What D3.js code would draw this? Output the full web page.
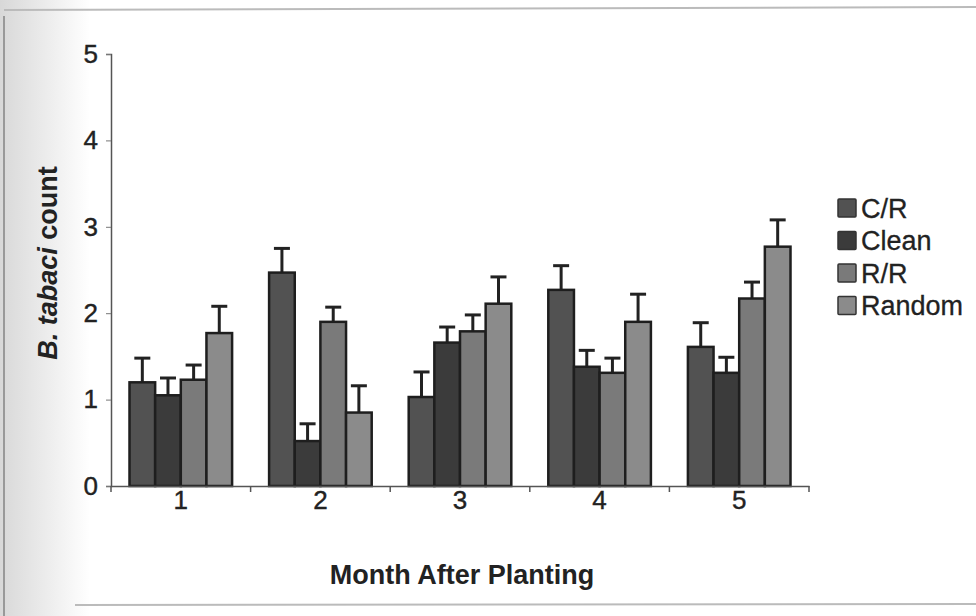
<!DOCTYPE html>
<html>
<head>
<meta charset="utf-8">
<script src="https://cdn.jsdelivr.net/npm/d3@7"></script>
<style>
  body { margin: 0; background: #fff; }
  svg { display: block; font-family: "Liberation Sans", Arial, sans-serif; }
</style>
</head>
<body>
<svg id="chart" width="976" height="616"></svg>
<script>
// data
const months = ["1", "2", "3", "4", "5"];
const series = ["C/R", "Clean", "R/R", "Random"];
const colors = ["#525252", "#3b3b3b", "#7a7a7a", "#8b8b8b"];
const means = [
  [1.2, 2.47, 1.03, 2.27, 1.61],   // C/R
  [1.05, 0.52, 1.66, 1.38, 1.31],  // Clean
  [1.23, 1.9, 1.79, 1.31, 2.17],   // R/R
  [1.77, 0.85, 2.11, 1.9, 2.77]    // Random
];
const errors = [
  [0.28, 0.28, 0.29, 0.28, 0.28],
  [0.2, 0.2, 0.18, 0.19, 0.18],
  [0.17, 0.17, 0.19, 0.17, 0.19],
  [0.31, 0.31, 0.31, 0.32, 0.31]
];
const yTicks = [0, 1, 2, 3, 4, 5];

const margin = { top: 54, left: 111, right: 167, bottom: 130 };
const width = 976 - margin.left - margin.right;
const height = 616 - margin.top - margin.bottom;

const svg = d3.select("#chart");

// scanned-page look: grey left edge and frame lines
const defs = svg.append("defs");
const grad = defs.append("linearGradient").attr("id", "edge");
grad.append("stop").attr("offset", "0%").attr("stop-color", "#d8d8d8");
grad.append("stop").attr("offset", "100%").attr("stop-color", "#ffffff");
svg.append("rect").attr("x", 0).attr("y", 0).attr("width", 976).attr("height", 616).attr("fill", "#fff");
svg.append("rect").attr("x", 0).attr("y", 0).attr("width", 90).attr("height", 616).attr("fill", "url(#edge)");
svg.append("line").attr("x1", 4).attr("x2", 4).attr("y1", 16).attr("y2", 616)
  .style("stroke", "#999").style("stroke-width", 2);
svg.append("line").attr("x1", 4).attr("x2", 976).attr("y1", 10).attr("y2", 7)
  .style("stroke", "#bbb").style("stroke-width", 2);
svg.append("line").attr("x1", 75).attr("x2", 976).attr("y1", 605).attr("y2", 604)
  .style("stroke", "#bbb").style("stroke-width", 2);

const g = svg.append("g").attr("transform", `translate(${margin.left},${margin.top})`);

const x = d3.scaleBand().domain(months).range([0, width]);
const inner = d3.scaleBand().domain(series)
  .range([18.5, x.bandwidth() - 18.5]);
const y = d3.scaleLinear().domain([0, 5]).range([height, 0]);

// bars
const groups = g.selectAll("g.month")
  .data(months)
  .join("g")
  .attr("class", "month")
  .attr("transform", d => `translate(${x(d)},0)`);

groups.each(function (m, mi) {
  const grp = d3.select(this);
  series.forEach((s, si) => {
    const v = means[si][mi];
    const e = errors[si][mi];
    const cx = inner(s) + inner.bandwidth() / 2;
    grp.append("line")
      .attr("x1", cx).attr("x2", cx)
      .attr("y1", y(v)).attr("y2", y(v + e))
      .style("stroke", "#222").style("stroke-width", 3);
    grp.append("line")
      .attr("x1", cx - 8).attr("x2", cx + 8)
      .attr("y1", y(v + e)).attr("y2", y(v + e))
      .style("stroke", "#222").style("stroke-width", 3);
    grp.append("rect")
      .attr("x", inner(s))
      .attr("y", y(v))
      .attr("width", inner.bandwidth())
      .attr("height", height - y(v))
      .style("fill", colors[si])
      .style("stroke", "#1e1e1e")
      .style("stroke-width", 2.5);
  });
});

// axes
const yAxis = g.append("g")
  .call(d3.axisLeft(y).tickValues(yTicks).tickSize(5).tickFormat(d3.format("d")));
const xAxis = g.append("g")
  .attr("transform", `translate(0,${height})`)
  .call(d3.axisBottom(x).tickSize(0));

[yAxis, xAxis].forEach(a => {
  a.attr("font-size", null).attr("font-family", null);
  a.select(".domain").style("stroke", "#555").style("stroke-width", 1.5);
  a.selectAll("text").style("font-size", "26px").style("fill", "#222")
    .style("stroke", "#222").style("stroke-width", 0.4);
});
yAxis.selectAll(".tick line").style("stroke", "#777");
yAxis.selectAll("text").attr("x", -13);
xAxis.selectAll("text").attr("y", 3).attr("dy", "0.75em");

// category dividers on the x axis
g.append("g").selectAll("line")
  .data(d3.range(months.length + 1))
  .join("line")
  .attr("x1", i => i * x.step()).attr("x2", i => i * x.step())
  .attr("y1", height).attr("y2", height + 6)
  .style("stroke", "#555").style("stroke-width", 1.5);

// axis titles
svg.append("text")
  .attr("x", 462)
  .attr("y", 584)
  .attr("text-anchor", "middle")
  .style("font-size", "27px").style("font-weight", "bold").style("fill", "#222")
  .text("Month After Planting");

const yTitle = svg.append("text")
  .attr("transform", `translate(57,263) rotate(-90)`)
  .attr("text-anchor", "middle")
  .style("font-size", "27px").style("font-weight", "bold").style("fill", "#222");
yTitle.append("tspan").style("font-style", "italic").text("B. tabaci");
yTitle.append("tspan").text(" count");

// legend
const legend = svg.append("g").attr("transform", "translate(838,199)");
const items = legend.selectAll("g")
  .data(series)
  .join("g")
  .attr("transform", (d, i) => `translate(0,${i * 32.5})`);
items.append("rect")
  .attr("width", 18).attr("height", 18)
  .attr("rx", 1)
  .style("fill", (d, i) => colors[i])
  .style("stroke", "#333").style("stroke-width", 1.5);
items.append("text")
  .attr("x", 23).attr("y", 18.5)
  .style("font-size", "27px").style("fill", "#222")
  .style("stroke", "#222").style("stroke-width", 0.3)
  .text(d => d);
</script>
</body>
</html>
